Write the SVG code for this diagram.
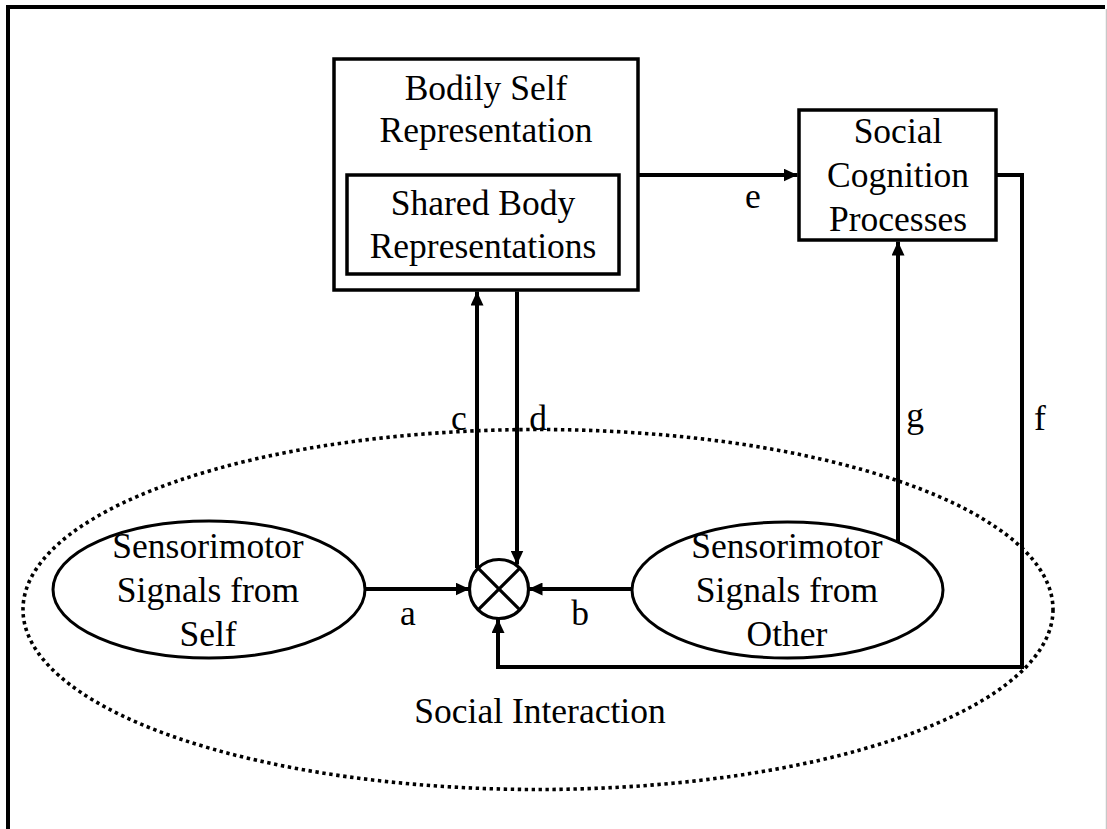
<svg xmlns="http://www.w3.org/2000/svg" width="1107" height="829" viewBox="0 0 1107 829">
  <style>
    text { font-family: "Liberation Serif", "Times New Roman", serif; font-size: 35.5px; fill: #000; text-anchor: middle; }
    .box { fill: #fff; stroke: #000; stroke-width: 3.5; }
    .oval { fill: #fff; stroke: #000; stroke-width: 3; }
    .wire { fill: none; stroke: #000; stroke-width: 4; }
    .arrow { marker-end: url(#head); }
  </style>
  <defs>
    <marker id="head" markerUnits="userSpaceOnUse" markerWidth="15" markerHeight="13" refX="14" refY="6.5" orient="auto">
      <path d="M0,0 L14,6.5 L0,13 z" fill="#000"/>
    </marker>
  </defs>

  <rect width="1107" height="829" fill="#fff"/>

  <!-- outer frame -->
  <path d="M8,835 V7 H1105" fill="none" stroke="#000" stroke-width="4"/>
  <line x1="1106.5" y1="9" x2="1106.5" y2="829" stroke="#c8c8c8" stroke-width="1.5"/>

  <!-- social interaction region -->
  <g id="social-interaction">
    <ellipse cx="538" cy="609.5" rx="515" ry="180" fill="none" stroke="#000" stroke-width="3.6" stroke-dasharray="3.4 3.6"/>
    <text x="540" y="723">Social Interaction</text>
  </g>

  <!-- bodily self representation with nested shared body representations -->
  <g id="bodily-self">
    <rect class="box" x="334" y="59" width="304" height="231"/>
    <text x="486" y="100">Bodily Self</text>
    <text x="486" y="142">Representation</text>
    <g id="shared-body">
      <rect class="box" x="347" y="175" width="272" height="99"/>
      <text x="483" y="215">Shared Body</text>
      <text x="483" y="258">Representations</text>
    </g>
  </g>

  <g id="social-cognition">
    <rect class="box" x="799" y="110" width="197" height="130"/>
    <text x="898" y="143">Social</text>
    <text x="898" y="187">Cognition</text>
    <text x="898" y="231">Processes</text>
  </g>

  <g id="signals-self">
    <ellipse class="oval" cx="209" cy="589.5" rx="156" ry="68.5"/>
    <text x="208" y="558">Sensorimotor</text>
    <text x="208" y="602">Signals from</text>
    <text x="208" y="646">Self</text>
  </g>

  <g id="signals-other">
    <ellipse class="oval" cx="787.5" cy="590" rx="155.5" ry="68"/>
    <text x="787" y="558">Sensorimotor</text>
    <text x="787" y="602">Signals from</text>
    <text x="787" y="646">Other</text>
  </g>

  <!-- comparator -->
  <g id="comparator">
    <circle cx="499" cy="589" r="29.5" fill="#fff" stroke="#000" stroke-width="3.2"/>
    <path d="M478.1,568.1 L519.9,609.9 M519.9,568.1 L478.1,609.9" stroke="#000" stroke-width="3.2"/>
  </g>

  <!-- connectors -->
  <g id="connectors">
    <path class="wire arrow" d="M365,589 H469.5"/>
    <path class="wire arrow" d="M632,589 H528.5"/>
    <path class="wire arrow" d="M477,568 V291.5"/>
    <path class="wire arrow" d="M517,291.5 V564.5"/>
    <path class="wire arrow" d="M638,175 H797.5"/>
    <path class="wire arrow" d="M996,175 H1022 V667 H498 V619"/>
    <path class="wire arrow" d="M898,543 V241.5"/>
  </g>

  <g id="connector-labels">
    <text x="408" y="625">a</text>
    <text x="580" y="625">b</text>
    <text x="459" y="430">c</text>
    <text x="538" y="430">d</text>
    <text x="753" y="208">e</text>
    <text x="1040" y="430">f</text>
    <text x="915" y="427">g</text>
  </g>
</svg>
